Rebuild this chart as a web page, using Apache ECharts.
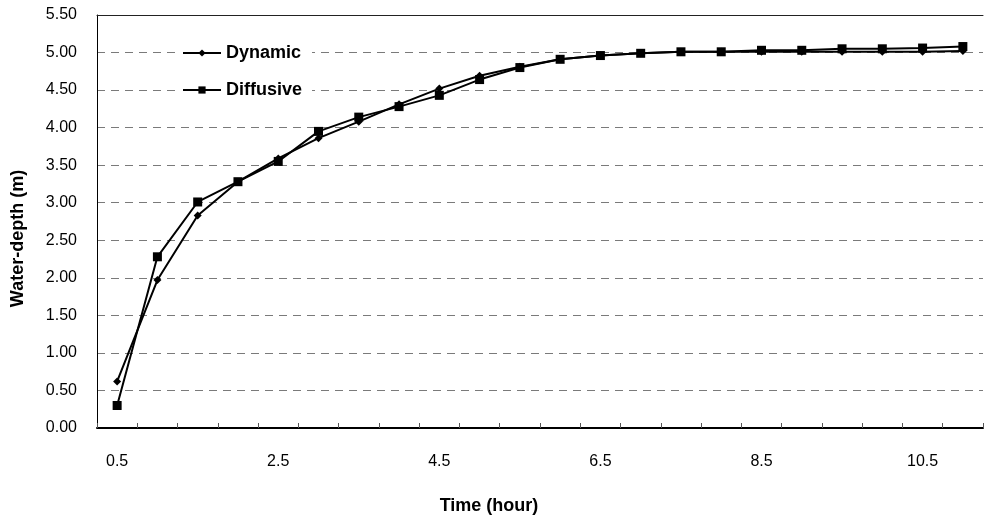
<!DOCTYPE html>
<html>
<head>
<meta charset="utf-8">
<script src="https://cdn.jsdelivr.net/npm/echarts@6/dist/echarts.min.js"></script>
<style>
html,body{margin:0;padding:0;background:#fff;}
#chart{width:985px;height:520px;}
</style>
</head>
<body>
<div id="chart"></div>
<script>
var categories = ["0.5","1.0","1.5","2.0","2.5","3.0","3.5","4.0","4.5","5.0","5.5","6.0","6.5","7.0","7.5","8.0","8.5","9.0","9.5","10.0","10.5","11.0"];
var dynamicValues = [0.62,1.97,2.83,3.28,3.59,3.86,4.08,4.31,4.52,4.69,4.81,4.91,4.96,4.99,5.01,5.01,5.01,5.01,5.01,5.01,5.01,5.02];
var diffusiveValues = [0.30,2.28,3.01,3.28,3.55,3.95,4.14,4.28,4.43,4.64,4.80,4.91,4.96,4.99,5.01,5.01,5.03,5.03,5.05,5.05,5.06,5.08];
var yTicks = [0,0.5,1,1.5,2,2.5,3,3.5,4,4.5,5,5.5];

var FONT = '"Liberation Sans", Arial, sans-serif';
var chart = echarts.init(document.getElementById('chart'), null, {renderer:'canvas'});
chart.setOption({
  backgroundColor: '#ffffff',
  animation: false,
  textStyle: {fontFamily: FONT},
  grid: {left: 97, right: 2, top: 15, bottom: 89, containLabel: false},
  legend: {
    orient: 'vertical',
    left: 177,
    top: 39,
    padding: [5, 10, 5, 5],
    backgroundColor: '#ffffff',
    itemWidth: 38,
    itemHeight: 9,
    itemGap: 19,
    textStyle: {fontFamily: FONT, fontSize: 18, fontWeight: 'bold', color: '#000'},
    data: ['Dynamic', 'Diffusive']
  },
  xAxis: [{
    type: 'category',
    data: categories,
    boundaryGap: true,
    name: 'Time (hour)',
    nameLocation: 'middle',
    nameGap: 69,
    nameTextStyle: {fontFamily: FONT, fontSize: 18, fontWeight: 'bold', color: '#000', padding: [0, 102, 0, 0]},
    axisLine: {show: true, lineStyle: {color: '#000', width: 2}},
    axisTick: {show: true, inside: true, length: 5, interval: 0, alignWithLabel: false, lineStyle: {color: '#555', width: 1}},
    axisLabel: {interval: 3, margin: 26, fontFamily: FONT, fontSize: 16, color: '#000'},
    splitLine: {show: false}
  }, {
    type: 'category',
    data: categories,
    position: 'top',
    axisLine: {show: true, lineStyle: {color: '#222', width: 1}},
    axisTick: {show: false},
    axisLabel: {show: false},
    splitLine: {show: false}
  }],
  yAxis: {
    type: 'value',
    min: yTicks[0],
    max: yTicks[yTicks.length - 1],
    interval: 0.5,
    name: 'Water-depth (m)',
    nameLocation: 'middle',
    nameGap: 70,
    nameRotate: 90,
    nameTextStyle: {fontFamily: FONT, fontSize: 18, fontWeight: 'bold', color: '#000', padding: [0, 34, 0, 0]},
    axisLine: {show: true, lineStyle: {color: '#000', width: 1}},
    axisTick: {show: false},
    axisLabel: {margin: 20, fontFamily: FONT, fontSize: 16, color: '#000', formatter: function (v) { return v.toFixed(2); }},
    splitLine: {show: true, lineStyle: {color: '#7a7a7a', width: 1, type: [8, 6]}}
  },
  series: [{
    name: 'Dynamic',
    type: 'line',
    data: dynamicValues,
    symbol: 'diamond',
    symbolSize: 8,
    showAllSymbol: true,
    lineStyle: {color: '#000', width: 2},
    itemStyle: {color: '#000'}
  }, {
    name: 'Diffusive',
    type: 'line',
    data: diffusiveValues,
    symbol: 'rect',
    symbolSize: 9,
    showAllSymbol: true,
    lineStyle: {color: '#000', width: 2},
    itemStyle: {color: '#000'}
  }]
});
</script>
</body>
</html>
